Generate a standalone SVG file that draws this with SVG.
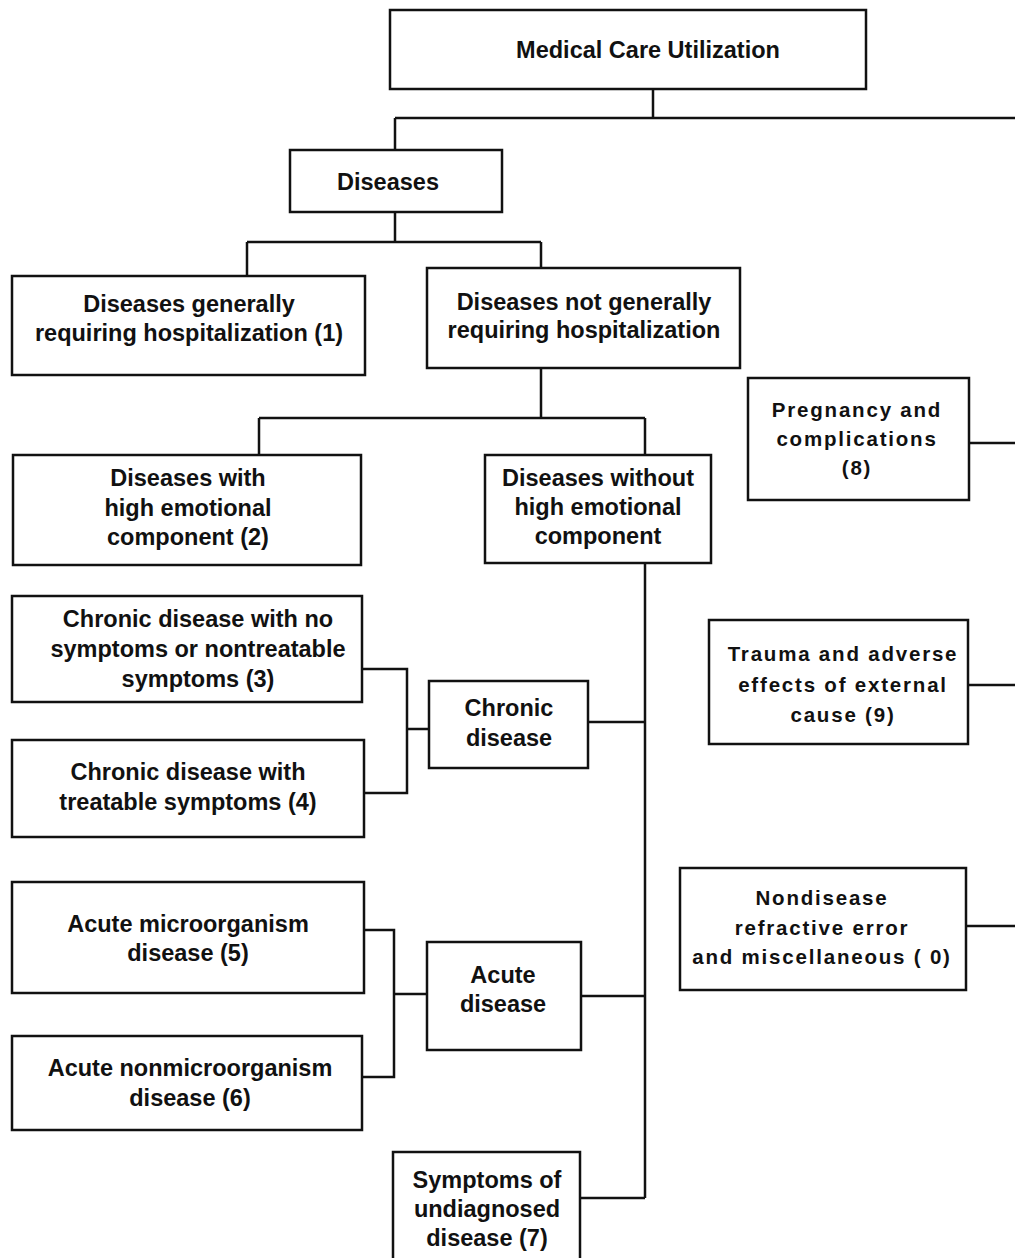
<svg xmlns="http://www.w3.org/2000/svg" width="1015" height="1258" viewBox="0 0 1015 1258">
<style>
.b{fill:#fff;stroke:#111;stroke-width:2.5}
.c{fill:none;stroke:#111;stroke-width:2.5}
text{font-family:"Liberation Sans",Arial,sans-serif;font-size:23.5px;font-weight:bold;fill:#111;text-anchor:middle}
.r{font-size:20.5px;letter-spacing:1.8px}
</style>
<rect width="1015" height="1258" fill="#fff"/>
<g id="connectors">
<path class="c" d="M653 89V118M395 118H1015M395 118V150"/>
<path class="c" d="M395 212V242M247 242H541M247 242V276M541 242V268"/>
<path class="c" d="M541 368V418M259 418H645M259 418V455M645 418V455"/>
<path class="c" d="M645 563V1198"/>
<path class="c" d="M362 669H407V793H364M407 729H429M588 722H645"/>
<path class="c" d="M364 930H394V1077H362M394 994H427M581 996H645"/>
<path class="c" d="M580 1198H645"/>
<path class="c" d="M969 443H1015M968 685H1015M966 926H1015"/>
</g>
<g id="n-mcu"><rect class="b" x="390" y="10" width="476" height="79"/><text x="648" y="58">Medical Care Utilization</text></g>
<g id="n-diseases"><rect class="b" x="290" y="150" width="212" height="62"/><text x="388" y="190">Diseases</text></g>
<g id="n-hosp"><rect class="b" x="12" y="276" width="353" height="99"/><text x="189" y="312">Diseases generally</text><text x="189" y="341">requiring hospitalization (1)</text></g>
<g id="n-nothosp"><rect class="b" x="427" y="268" width="313" height="100"/><text x="584" y="310">Diseases not generally</text><text x="584" y="338">requiring hospitalization</text></g>
<g id="n-emo"><rect class="b" x="13" y="455" width="348" height="110"/><text x="188" y="486">Diseases with</text><text x="188" y="516">high emotional</text><text x="188" y="545">component (2)</text></g>
<g id="n-noemo"><rect class="b" x="485" y="455" width="226" height="108"/><text x="598" y="486">Diseases without</text><text x="598" y="515">high emotional</text><text x="598" y="544">component</text></g>
<g id="n-c3"><rect class="b" x="12" y="596" width="350" height="106"/><text x="198" y="627">Chronic disease with no</text><text x="198" y="657">symptoms or nontreatable</text><text x="198" y="687">symptoms (3)</text></g>
<g id="n-c4"><rect class="b" x="12" y="740" width="352" height="97"/><text x="188" y="780">Chronic disease with</text><text x="188" y="810">treatable symptoms (4)</text></g>
<g id="n-chronic"><rect class="b" x="429" y="681" width="159" height="87"/><text x="509" y="716">Chronic</text><text x="509" y="746">disease</text></g>
<g id="n-a5"><rect class="b" x="12" y="882" width="352" height="111"/><text x="188" y="932">Acute microorganism</text><text x="188" y="961">disease (5)</text></g>
<g id="n-a6"><rect class="b" x="12" y="1036" width="350" height="94"/><text x="190" y="1076">Acute nonmicroorganism</text><text x="190" y="1106">disease (6)</text></g>
<g id="n-acute"><rect class="b" x="427" y="942" width="154" height="108"/><text x="503" y="983">Acute</text><text x="503" y="1012">disease</text></g>
<g id="n-s7"><rect class="b" x="393" y="1152" width="187" height="110"/><text x="487" y="1188">Symptoms of</text><text x="487" y="1217">undiagnosed</text><text x="487" y="1246">disease (7)</text></g>
<g id="n-p8"><rect class="b" x="748" y="378" width="221" height="122"/><text class="r" x="857" y="417">Pregnancy and</text><text class="r" x="857" y="446">complications</text><text class="r" x="857" y="475">(8)</text></g>
<g id="n-t9"><rect class="b" x="709" y="620" width="259" height="124"/><text class="r" x="843" y="661">Trauma and adverse</text><text class="r" x="843" y="692">effects of external</text><text class="r" x="843" y="722">cause (9)</text></g>
<g id="n-n0"><rect class="b" x="680" y="868" width="286" height="122"/><text class="r" x="822" y="905">Nondisease</text><text class="r" x="822" y="935">refractive error</text><text class="r" x="822" y="964">and miscellaneous (  0)</text></g>
</svg>
